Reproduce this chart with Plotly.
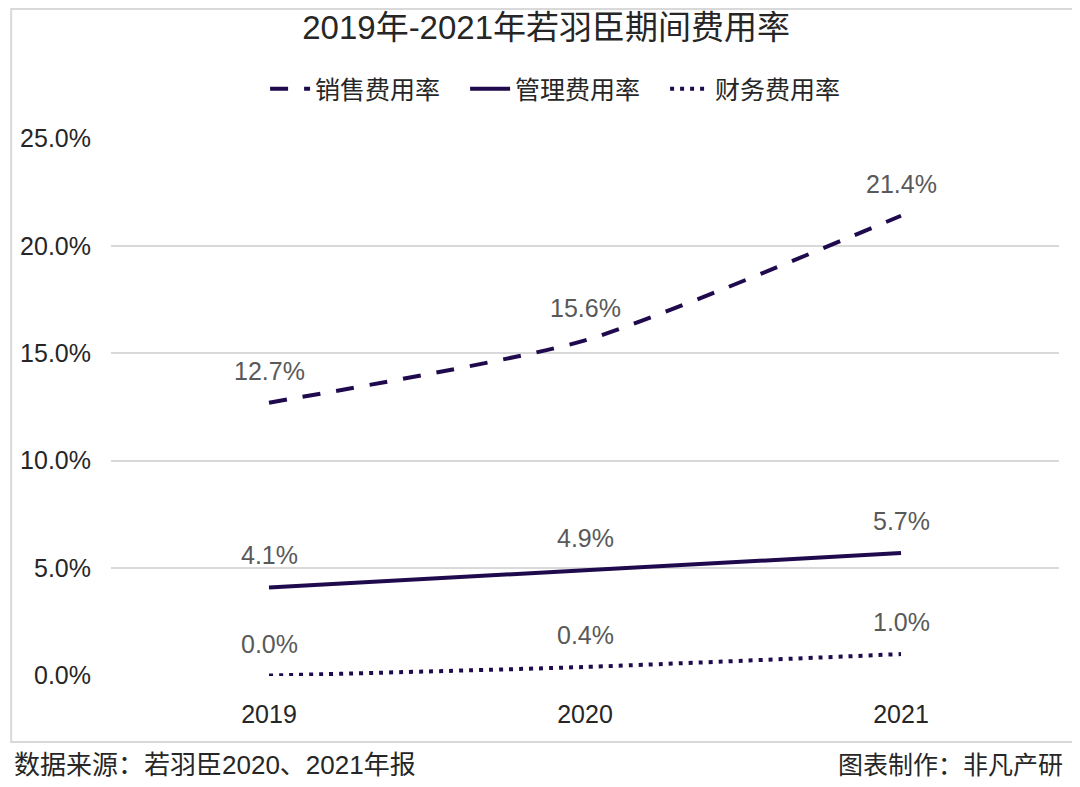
import plotly.graph_objects as go

years = ['2019', '2020', '2021']
sales_rate = [12.7, 15.6, 21.4]
admin_rate = [4.1, 4.9, 5.7]
finance_rate = [0.0, 0.4, 1.0]
y_ticks = [0, 5, 10, 15, 20, 25]
y_tick_labels = ['0.0%', '5.0%', '10.0%', '15.0%', '20.0%', '25.0%']

series = [
    ('销售费用率', sales_rate, '18px,16px'),
    ('管理费用率', admin_rate, 'solid'),
    ('财务费用率', finance_rate, '4px,6px'),
]

LINE_COLOR = '#1e0a4d'
FONT = 'Liberation Sans, Noto Sans CJK SC'
TEXT = '#262626'

fig = go.Figure()
for name, values, dash in series:
    fig.add_trace(go.Scatter(
        x=years, y=values, name=name, mode='lines',
        line=dict(color=LINE_COLOR, width=4, dash=dash, shape='spline', smoothing=0.6),
    ))
    # category axis: annotations take the category index
    for i, v in enumerate(values):
        fig.add_annotation(
            x=i, y=v, text=f'{v:.1f}%', showarrow=False, yshift=32,
            font=dict(family=FONT, size=25, color='#595959'),
        )

# outer border of the chart area
fig.add_shape(type='rect', xref='paper', yref='paper',
              x0=-0.1053, x1=1.02, y0=-0.1227, y1=1.2398,
              line=dict(color='#d9d9d9', width=2), layer='below')

fig.add_annotation(text='数据来源：若羽臣2020、2021年报', xref='paper', yref='paper',
                   x=-0.104, y=-0.1654, xanchor='left', yanchor='middle', showarrow=False,
                   font=dict(family=FONT, size=26, color=TEXT))
fig.add_annotation(text='图表制作：非凡产研', xref='paper', yref='paper',
                   x=1.0063, y=-0.1654, xanchor='right', yanchor='middle', showarrow=False,
                   font=dict(family=FONT, size=25, color=TEXT))

fig.update_layout(
    width=1072, height=779,
    margin=dict(l=101, r=21, t=130, b=111),
    paper_bgcolor='white', plot_bgcolor='white',
    font=dict(family=FONT, size=25, color=TEXT),
    title=dict(text='2019年-2021年若羽臣期间费用率', x=0.502, xanchor='center',
               y=0.975, yanchor='middle', font=dict(size=33, color=TEXT)),
    legend=dict(orientation='h', x=0.479, xanchor='center', y=1.091, yanchor='middle',
                font=dict(size=25, color=TEXT), itemwidth=40,
                entrywidth=145, entrywidthmode='pixels'),
    showlegend=True,
    xaxis=dict(type='category', range=[-0.5, 2.5], showgrid=False, showline=False,
               ticks='outside', ticklen=16, tickcolor='rgba(0,0,0,0)',
               tickfont=dict(size=25, color=TEXT)),
    yaxis=dict(range=[-0.02, 25.02], tickvals=y_ticks, ticktext=y_tick_labels,
               showgrid=True, gridcolor='#d9d9d9', gridwidth=1.5,
               zeroline=False, showline=False, ticks='outside', ticklen=14,
               tickcolor='rgba(0,0,0,0)',
               tickfont=dict(size=25, color=TEXT)),
)

fig.write_html('out.html')
